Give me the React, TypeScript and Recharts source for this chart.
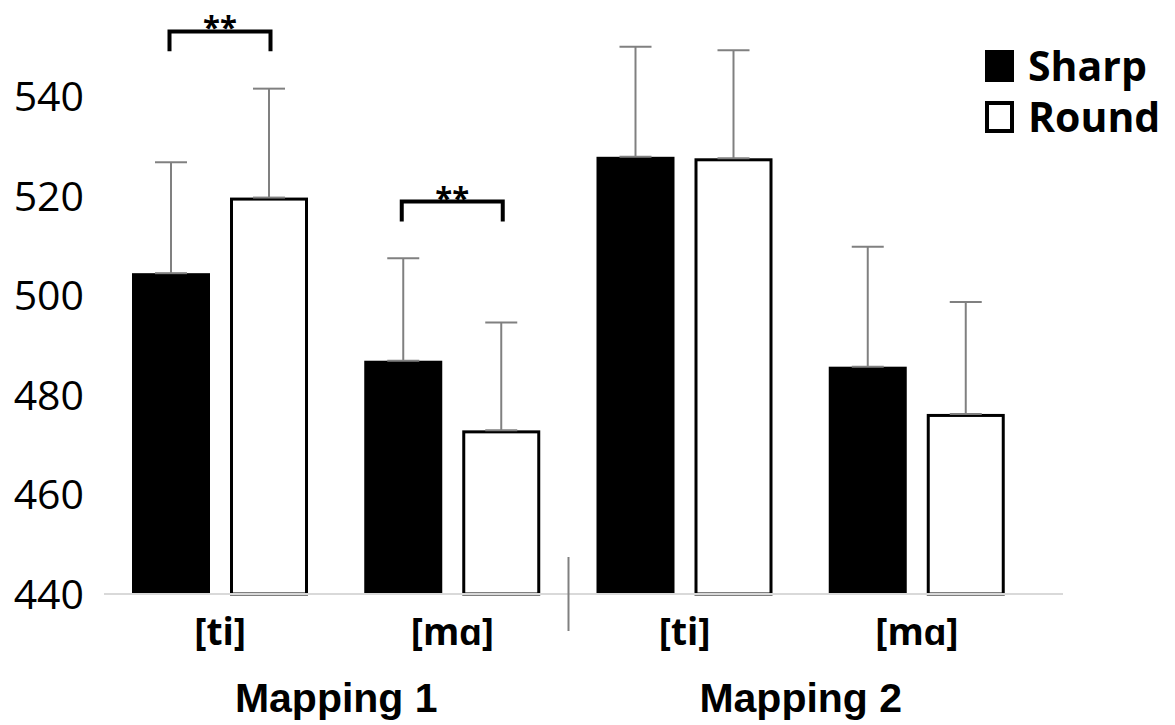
import { Bar, BarChart, ErrorBar, Legend, XAxis, YAxis } from "recharts";

const categories = ["[ti]", "[mɑ]", "[ti]", "[mɑ]"];
const groups = ["Mapping 1", "Mapping 1", "Mapping 2", "Mapping 2"];
const sharpMean = [504.5, 486.9, 527.9, 485.7];
const sharpErr = [22.3, 20.6, 22.1, 24.1];
const roundMean = [519.7, 472.9, 527.6, 476.2];
const roundErr = [21.9, 21.7, 21.7, 22.5];
const significance = ["**", "**", "", ""];
const bracketTop = [553.1, 518.9, 0, 0];
const yTicks = [440, 460, 480, 500, 520, 540];

const Y_MIN = 440;
const Y_MAX = 555;
const BAR_GAP = 20;
const BRACKET_LEG = 4;

const SANS = "'Open Sans', sans-serif";
const ARIAL = "'Liberation Sans', Arial, sans-serif";

const data = categories.map((cat, i) => ({
  cat,
  group: groups[i],
  sharp: sharpMean[i],
  sharpErr: [0, sharpErr[i]],
  round: roundMean[i],
  roundErr: [0, roundErr[i]]
}));

function SharpShape(props: any) {
  const { x, y, width, height, index } = props;
  const sig = significance[index];
  let bracket = null;
  if (sig) {
    // pixels per unit, taken from the bar the scale has drawn
    const k = height / (sharpMean[index] - Y_MIN);
    const base = y + height;
    const top = base - (bracketTop[index] - Y_MIN) * k;
    const leg = top + BRACKET_LEG * k;
    const x1 = x + width / 2 - 1.5;
    const x2 = x + width / 2 + width + BAR_GAP + 1.5;
    bracket = (
      <g>
        <path
          d={`M${x1},${leg} L${x1},${top} L${x2},${top} L${x2},${leg}`}
          fill="none"
          stroke="#000"
          strokeWidth={4}
        />
        <text
          x={(x1 + x2) / 2}
          y={top + 7}
          textAnchor="middle"
          fontFamily={SANS}
          fontWeight={700}
          fontSize={31}
          fill="#000"
        >
          {sig}
        </text>
      </g>
    );
  }
  return (
    <g>
      <rect x={x} y={y} width={width} height={height} fill="#000" />
      {bracket}
    </g>
  );
}

function RoundShape(props: any) {
  const { x, y, width, height } = props;
  return (
    <rect
      x={x + 1.5}
      y={y + 1.5}
      width={width - 3}
      height={height - 1.5}
      fill="#fff"
      stroke="#000"
      strokeWidth={3}
    />
  );
}

function CategoryTick(props: any) {
  const { x, y, payload } = props;
  const i = payload.index;
  const half = payload.offset ?? 116;
  const newGroup = i === 0 || groups[i] !== groups[i - 1];
  const groupEnd = groups.lastIndexOf(groups[i]);
  return (
    <g>
      <text
        x={x}
        y={y + 51}
        textAnchor="middle"
        fontFamily={SANS}
        fontWeight={700}
        fontSize={37}
        fill="#000"
      >
        {payload.value}
      </text>
      {newGroup && (
        <text
          x={x + (groupEnd - i) * half}
          y={y + 118}
          textAnchor="middle"
          fontFamily={ARIAL}
          fontWeight={700}
          fontSize={41}
          fill="#000"
        >
          {groups[i]}
        </text>
      )}
      {newGroup && i > 0 && (
        <line x1={x - half} x2={x - half} y1={y - 37} y2={y + 37} stroke="#808080" strokeWidth={2} />
      )}
    </g>
  );
}

function LegendBox() {
  const items = [
    { name: "Sharp", fill: "#000" },
    { name: "Round", fill: "#fff" }
  ];
  return (
    <div style={{ fontFamily: SANS, fontWeight: 700, fontSize: 41, color: "#000" }}>
      {items.map((item) => (
        <div key={item.name} style={{ display: "flex", alignItems: "center", height: 51, lineHeight: "51px" }}>
          <span
            style={{
              display: "inline-block",
              width: 29,
              height: 32,
              boxSizing: "border-box",
              background: item.fill,
              border: "4px solid #000",
              marginRight: 14
            }}
          />
          <span>{item.name}</span>
        </div>
      ))}
    </div>
  );
}

export default function App() {
  return (
    <div style={{ position: "absolute", left: 0, top: 0, background: "#fff" }}>
      <BarChart
        width={1175}
        height={725}
        data={data}
        margin={{ top: 22, right: 112, bottom: 0, left: 0 }}
        barGap={BAR_GAP}
        barSize={78}
      >
        <XAxis
          dataKey="cat"
          interval={0}
          axisLine={{ stroke: "#d9d9d9", strokeWidth: 2 }}
          tickLine={false}
          tickSize={0}
          tickMargin={0}
          height={131}
          padding={{ left: 0, right: 30 }}
          tick={<CategoryTick />}
        />
        <YAxis
          domain={[Y_MIN, Y_MAX]}
          ticks={yTicks}
          width={104}
          axisLine={false}
          tickLine={false}
          tickSize={0}
          tickMargin={20}
          tick={{ fill: "#000", fontSize: 41, fontFamily: SANS }}
        />
        <Legend
          content={<LegendBox />}
          layout="horizontal"
          verticalAlign="middle"
          align="center"
          wrapperStyle={{ top: 40, left: 985, width: 190 }}
        />
        <Bar dataKey="sharp" name="Sharp" shape={<SharpShape />} isAnimationActive={false}>
          <ErrorBar dataKey="sharpErr" width={16} stroke="#808080" strokeWidth={2} direction="y" />
        </Bar>
        <Bar dataKey="round" name="Round" shape={<RoundShape />} isAnimationActive={false}>
          <ErrorBar dataKey="roundErr" width={16} stroke="#808080" strokeWidth={2} direction="y" />
        </Bar>
      </BarChart>
    </div>
  );
}
